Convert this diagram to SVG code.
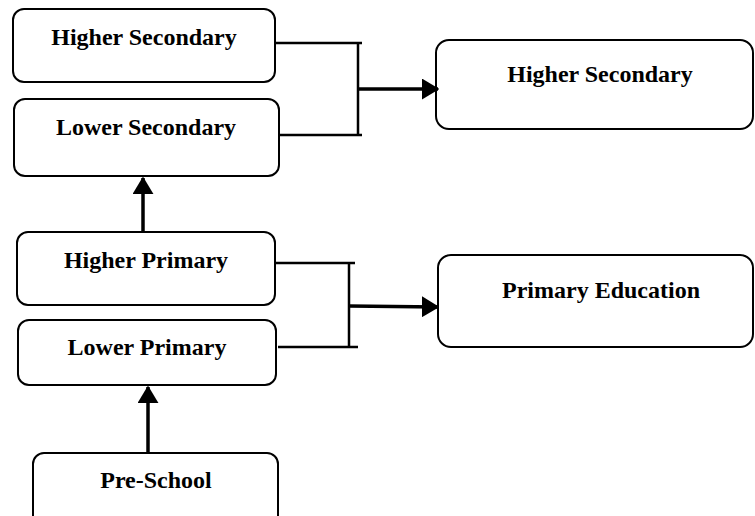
<svg xmlns="http://www.w3.org/2000/svg" width="755" height="516" viewBox="0 0 755 516">
<style>
.box{fill:#fff;stroke:#000;stroke-width:2}
.t{font-family:"Liberation Serif","Times New Roman",serif;font-weight:bold;font-size:24px;fill:#000;text-anchor:middle}
.br{stroke:#000;stroke-width:2.5;fill:none}
.ar{stroke:#000;stroke-width:3.5;fill:none}
</style>
<defs>
<marker id="ah" markerWidth="5" markerHeight="6" refX="4.6" refY="3" orient="auto" markerUnits="strokeWidth" viewBox="0 0 5 6">
<path d="M0,0 L5,3 L0,6 Z" fill="#000"/>
</marker>
</defs>
<rect width="755" height="516" fill="#fff"/>
<g id="n-hs-left"><rect class="box" x="13" y="9" width="262" height="73" rx="11"/><text class="t" x="144" y="45">Higher Secondary</text></g>
<g id="n-ls"><rect class="box" x="14" y="99" width="265" height="77" rx="11"/><text class="t" x="146" y="135">Lower Secondary</text></g>
<g id="n-hp"><rect class="box" x="17" y="232" width="258" height="73" rx="11"/><text class="t" x="146" y="268">Higher Primary</text></g>
<g id="n-lp"><rect class="box" x="18" y="320" width="258" height="65" rx="11"/><text class="t" x="147" y="355">Lower Primary</text></g>
<g id="n-ps"><rect class="box" x="33" y="453" width="245" height="75" rx="11"/><text class="t" x="156" y="488">Pre-School</text></g>
<g id="n-hs-right"><rect class="box" x="436" y="40" width="317" height="89" rx="13"/><text class="t" x="600" y="82">Higher Secondary</text></g>
<g id="n-pe"><rect class="box" x="438" y="255" width="315" height="92" rx="13"/><text class="t" x="601" y="298">Primary Education</text></g>
<g id="connectors">
<path class="br" d="M275,43 H362 M279,135 H362 M358,43 V135"/>
<path class="br" d="M275,263 H355 M278,347 H358 M349,263 V347"/>
<line class="ar" x1="358" y1="89" x2="438" y2="89" marker-end="url(#ah)"/>
<line class="ar" x1="349" y1="306" x2="438" y2="307" marker-end="url(#ah)"/>
<line class="ar" x1="143" y1="232" x2="143" y2="178" marker-end="url(#ah)"/>
<line class="ar" x1="148" y1="453" x2="148" y2="387" marker-end="url(#ah)"/>
</g>
</svg>
